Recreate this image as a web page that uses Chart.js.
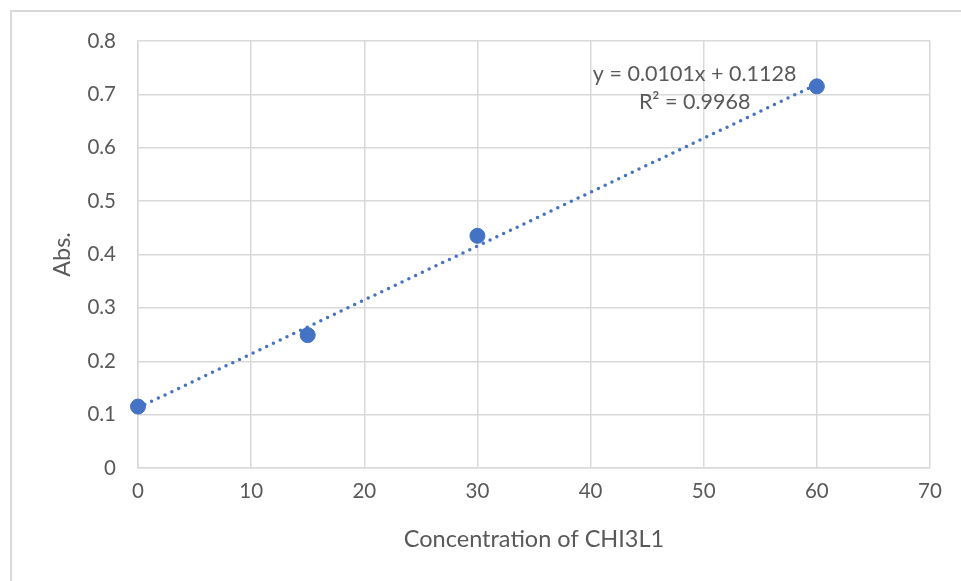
<!DOCTYPE html>
<html>
<head>
<meta charset="utf-8">
<script src="https://cdn.jsdelivr.net/npm/chart.js@4"></script>
<style>
  html, body { margin: 0; padding: 0; background: #fff; }
  #wrap { width: 961px; height: 581px; }
</style>
</head>
<body>
<div id="wrap"><canvas id="absChart" width="961" height="581"></canvas></div>
<script>
// standard curve readings
var concentrations = [0, 15, 30, 60];
var absorbance = [0.115, 0.249, 0.435, 0.715];

// linear fit shown on the chart
var slope = 0.0101;
var intercept = 0.1128;
var rSquared = 0.9968;

var xTicks = [0, 10, 20, 30, 40, 50, 60, 70];
var yTicks = [0, 0.1, 0.2, 0.3, 0.4, 0.5, 0.6, 0.7, 0.8];

var textColor = '#595959';
var gridColor = '#d9d9d9';
var blue = '#4472c4';
var fontFamily = 'Lato, "Open Sans", sans-serif';

var points = concentrations.map(function (c, i) { return { x: c, y: absorbance[i] }; });
var fitEnds = [concentrations[0], concentrations[concentrations.length - 1]];
var fitLine = fitEnds.map(function (c) { return { x: c, y: slope * c + intercept }; });

// light frame around the chart
var framePlugin = {
  id: 'frame',
  beforeDraw: function (chart) {
    var ctx = chart.ctx;
    ctx.save();
    ctx.fillStyle = '#fff';
    ctx.fillRect(0, 0, chart.width, chart.height);
    ctx.strokeStyle = gridColor;
    ctx.lineWidth = 2;
    ctx.strokeRect(11, 11, 1000, 1000);
    ctx.restore();
  }
};

// equation and R² next to the fit line
var equationPlugin = {
  id: 'equation',
  afterDatasetsDraw: function (chart) {
    var ctx = chart.ctx;
    var xs = chart.scales.x, ys = chart.scales.y;
    var cx = xs.getPixelForValue(49.2);
    ctx.save();
    ctx.fillStyle = textColor;
    ctx.font = '21.5px ' + fontFamily;
    ctx.textAlign = 'center';
    ctx.textBaseline = 'middle';
    ctx.fillText('y = ' + slope.toFixed(4) + 'x + ' + intercept.toFixed(4), cx, ys.getPixelForValue(0.738));
    ctx.fillText('R\u00b2 = ' + rSquared.toFixed(4), cx, ys.getPixelForValue(0.686));
    ctx.restore();
  }
};

var ctx = document.getElementById('absChart').getContext('2d');
var absChart = new Chart(ctx, {
  type: 'scatter',
  data: {
    datasets: [
      {
        label: 'Abs.',
        data: points,
        backgroundColor: blue,
        borderColor: blue,
        pointRadius: 7.5,
        pointHoverRadius: 7.5,
        clip: false,
        order: 1
      },
      {
        label: 'Linear fit',
        type: 'line',
        data: fitLine,
        borderColor: blue,
        borderWidth: 3.5,
        borderDash: [0, 7.5],
        borderCapStyle: 'round',
        pointRadius: 0,
        fill: false,
        clip: false,
        order: 2
      }
    ]
  },
  options: {
    responsive: false,
    animation: false,
    layout: { padding: { top: 41, right: 31, left: 0, bottom: 0 } },
    plugins: {
      legend: { display: false },
      tooltip: { enabled: false }
    },
    scales: {
      x: {
        type: 'linear',
        min: 0,
        max: 70,
        afterBuildTicks: function (scale) { scale.ticks = xTicks.map(function (v) { return { value: v }; }); },
        afterFit: function (scale) { scale.height = 113; },
        grid: { color: gridColor, lineWidth: 1.5, drawTicks: false },
        border: { color: gridColor, width: 1.5 },
        ticks: { color: textColor, font: { family: fontFamily, size: 20.5 }, padding: 11, maxRotation: 0 },
        title: {
          display: true,
          text: 'Concentration of CHI3L1',
          color: textColor,
          font: { family: fontFamily, size: 23.5 },
          padding: { top: 0, bottom: 27 }
        }
      },
      y: {
        type: 'linear',
        min: 0,
        max: 0.8,
        afterBuildTicks: function (scale) { scale.ticks = yTicks.map(function (v) { return { value: v }; }); },
        afterFit: function (scale) { scale.width = 138; },
        grid: { color: gridColor, lineWidth: 1.5, drawTicks: false },
        border: { color: gridColor, width: 1.5 },
        ticks: {
          color: textColor,
          font: { family: fontFamily, size: 20.5 },
          padding: 22,
          callback: function (v) { return String(Math.round(v * 10) / 10); }
        },
        title: {
          display: true,
          text: 'Abs.',
          color: textColor,
          font: { family: fontFamily, size: 23.5 },
          padding: { top: 48, bottom: 0 }
        }
      }
    }
  },
  plugins: [framePlugin, equationPlugin]
});
</script>
</body>
</html>
